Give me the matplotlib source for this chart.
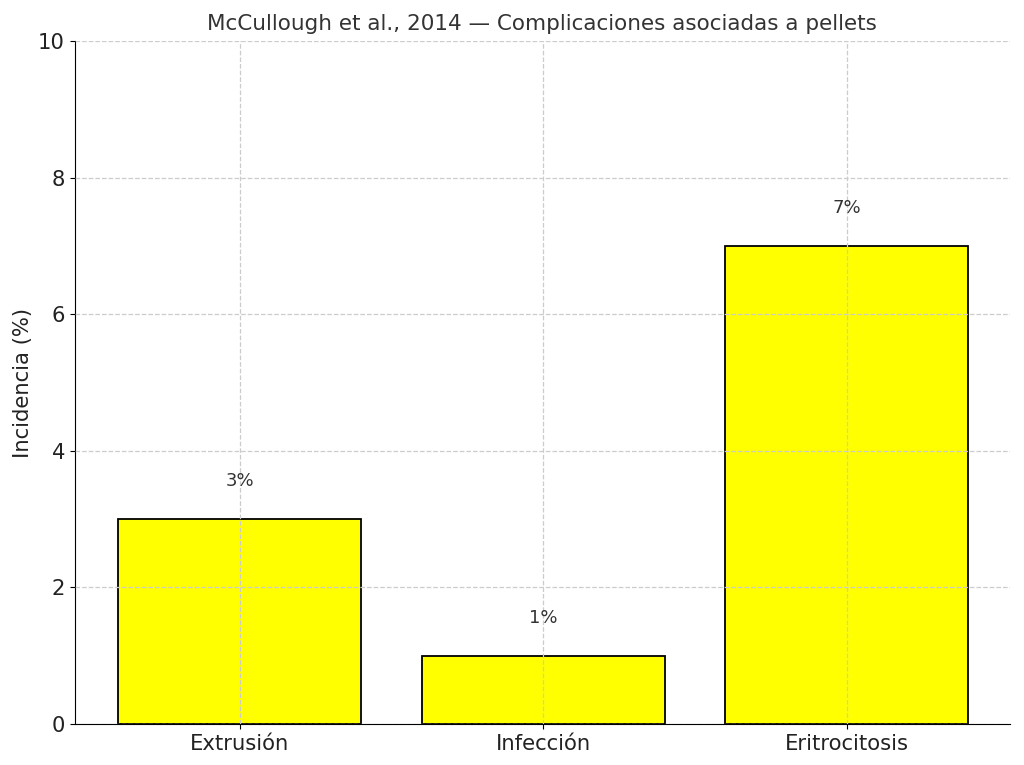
import matplotlib
matplotlib.use("Agg")
import matplotlib.pyplot as plt

categorias = ["Extrusión", "Infección", "Eritrocitosis"]
incidencia = [3, 1, 7]
etiquetas = ["3%", "1%", "7%"]

fig = plt.figure(figsize=(10.24, 7.65), dpi=100)
ax = fig.add_axes([0.073, 0.0536, 0.913, 0.8928])

x = range(len(categorias))
ax.bar(x, incidencia, width=0.8, color="yellow", edgecolor="black", linewidth=1.3, zorder=2)
for i, v in enumerate(incidencia):
    ax.text(i, v + 0.42, etiquetas[i], ha="center", va="bottom", fontsize=13, color="#333333", zorder=4)

ax.set_xticks(list(x))
ax.set_xticklabels(categorias, fontsize=15.2, color="#222222")
ax.tick_params(axis="y", labelsize=15.2, labelcolor="#222222")
ax.set_xlim(-0.543, 2.537)
ax.set_ylim(0, 10)
ax.set_ylabel("Incidencia (%)", fontsize=15.2, color="#222222")
ax.set_title("McCullough et al., 2014 — Complicaciones asociadas a pellets",
             fontsize=15.5, color="#333333", pad=8)
ax.grid(True, linestyle="--", color="#cccccc", linewidth=0.9, zorder=3)
ax.set_axisbelow(False)
for s in ["top", "right"]:
    ax.spines[s].set_visible(False)

fig.savefig("out.png", dpi=100)
